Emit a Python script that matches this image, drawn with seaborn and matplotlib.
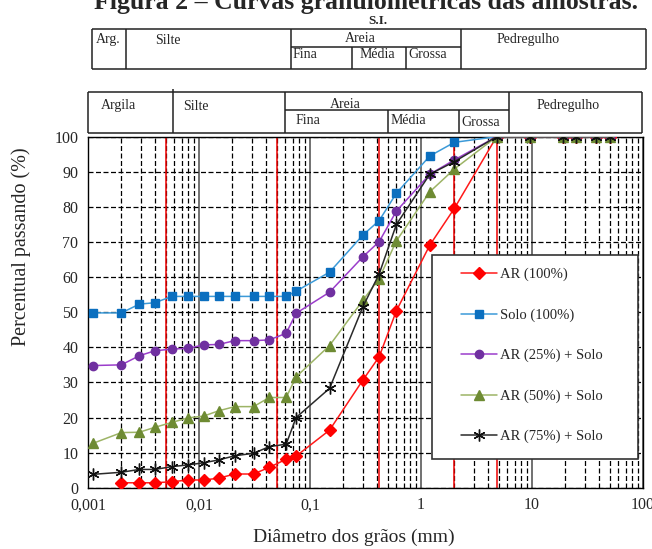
import numpy as np
import pandas as pd
import matplotlib
matplotlib.use("Agg")
import matplotlib.pyplot as plt
import seaborn as sns
from matplotlib.ticker import FixedLocator, LogLocator, NullFormatter, FixedFormatter
from matplotlib.patches import Rectangle

# ---------------- data ----------------
diametros = [0.0011, 0.002, 0.0029, 0.004, 0.0057, 0.008, 0.011, 0.015, 0.021,
             0.031, 0.043, 0.061, 0.075, 0.15, 0.3, 0.42, 0.6, 1.2, 2.0, 4.8,
             9.5, 19, 25, 38, 50]
ar_100 = [np.nan, 1.4, 1.4, 1.4, 1.7, 2.2, 2.2, 2.7, 3.9, 3.9, 5.8, 8.1, 9.0,
          16.4, 30.7, 37.3, 50.4, 69.1, 79.6, 100, 100, 100, 100, 100, 100]
solo_100 = [49.8, 49.8, 52.3, 52.7, 54.5, 54.5, 54.5, 54.5, 54.5, 54.5, 54.5,
            54.5, 56.0, 61.4, 72.0, 76.1, 83.9, 94.5, 98.4, 100, 100, 100, 100, 100, 100]
ar_25 = [34.8, 35.0, 37.6, 39.0, 39.5, 39.7, 40.7, 40.8, 41.9, 41.9, 42.1, 44.0,
         49.7, 55.7, 65.8, 70.1, 78.8, 89.3, 93.4, 100, 100, 100, 100, 100, 100]
ar_50 = [12.6, 15.7, 15.8, 17.2, 18.6, 19.9, 20.4, 21.9, 23.1, 23.1, 25.7, 25.7,
         31.6, 40.5, 53.4, 59.6, 70.3, 84.3, 90.8, 100, 100, 100, 100, 100, 100]
ar_75 = [3.8, 4.4, 5.2, 5.2, 6.0, 6.5, 7.1, 7.9, 9.1, 9.8, 11.7, 12.4, 20.0,
         28.3, 51.6, 60.9, 75.0, 89.3, 92.9, 100, 100, 100, 100, 100, 100]
series_names = ["AR (100%)", "Solo (100%)", "AR (25%) + Solo",
                "AR (50%) + Solo", "AR (75%) + Solo"]
limites = [0.005, 0.05, 0.42, 2.0, 4.8]
x_ticks = [0.001, 0.01, 0.1, 1, 10, 100]
x_tick_labels = ["0,001", "0,01", "0,1", "1", "10", "100"]
y_ticks = [0, 10, 20, 30, 40, 50, 60, 70, 80, 90, 100]

# ---------------- style ----------------
sns.set_style("white")
plt.rcParams["font.family"] = ["Liberation Serif", "DejaVu Serif"]

styles = [
    dict(color="#FF1A1A", marker="D", mfc="#FF0000", mec="#FF0000", ms=6),
    dict(color="#3C9AD8", marker="s", mfc="#0B6FBF", mec="#0B6FBF", ms=6),
    dict(color="#9B3DCB", marker="o", mfc="#7030A0", mec="#7030A0", ms=6),
    dict(color="#9DB466", marker="^", mfc="#6E8B33", mec="#6E8B33", ms=7.5),
    dict(color="#2A2A2A", marker=(6, 2, 0), mfc="#111111", mec="#111111", ms=8.5),
]
valores = [ar_100, solo_100, ar_25, ar_50, ar_75]

fig = plt.figure(figsize=(6.52, 5.49), dpi=100)
W, H = 652, 549
ax_l, ax_r, ax_t, ax_b = 88, 643, 136.7, 487.7
ax = fig.add_axes([ax_l / W, 1 - ax_b / H, (ax_r - ax_l) / W, (ax_b - ax_t) / H])

for name, vals, st in zip(series_names, valores, styles):
    df = pd.DataFrame({"d": diametros, "p": vals}).dropna()
    sns.lineplot(data=df, x="d", y="p", ax=ax, color=st["color"], lw=1.1,
                 marker=st["marker"], markerfacecolor=st["mfc"],
                 markeredgecolor=st["mec"], markersize=st["ms"],
                 markeredgewidth=1.0, label=name, zorder=4, errorbar=None)

ax.set_xscale("log")
ax.set_xlim(0.001, 100)
ax.set_ylim(0, 100)

ax.xaxis.set_major_locator(FixedLocator(x_ticks))
ax.xaxis.set_major_formatter(FixedFormatter(x_tick_labels))
ax.xaxis.set_minor_locator(LogLocator(base=10, subs=np.arange(2, 10), numticks=20))
ax.xaxis.set_minor_formatter(NullFormatter())
ax.yaxis.set_major_locator(FixedLocator(y_ticks))

ax.grid(which="major", axis="y", ls=(0, (4, 2)), color="black", lw=0.9)
ax.grid(which="minor", axis="x", ls=(0, (4, 2)), color="black", lw=0.9)
ax.grid(which="major", axis="x", ls="-", color="#4a4a4a", lw=1.1)
ax.set_axisbelow(True)
for lim in limites:
    ax.axvline(lim, color="#EE0000", lw=1.1, zorder=2)

for sp in ax.spines.values():
    sp.set_color("black")
    sp.set_linewidth(1.0)
ax.tick_params(which="major", direction="out", length=4, width=0.9,
               labelsize=11.5, color="black", pad=3)
ax.tick_params(which="minor", direction="out", length=3, width=0.9, color="black")

ax.set_xlabel("Diâmetro dos grãos (mm)", fontsize=14)
ax.set_ylabel("Percentual passando (%)", fontsize=14.5)
ax.xaxis.set_label_coords((354 - ax_l) / (ax_r - ax_l), (ax_b - 529) / (ax_b - ax_t))
ax.yaxis.set_label_coords((31 - ax_l) / (ax_r - ax_l), (ax_b - 247) / (ax_b - ax_t))

handles, labels = ax.get_legend_handles_labels()
ax.get_legend().remove()

# ---------------- overlay (pixel coordinates) ----------------
ov = fig.add_axes([0, 0, 1, 1])
ov.set_xlim(0, W)
ov.set_ylim(H, 0)
ov.axis("off")
ov.patch.set_alpha(0)

def seg(x0, y0, x1, y1, lw=1.1):
    ov.plot([x0, x1], [y0, y1], color="#222222", lw=lw, solid_capstyle="butt")

# title (cut off at top, as in the reference)
ov.text(366, 8.5, "Figura 2 \u2013 Curvas granulométricas das amostras.",
        ha="center", va="baseline", fontsize=18.5, fontweight="bold")
ov.text(378, 21, "S.I.", ha="center", va="center", fontsize=9.5, fontweight="bold")

tfs = 10
# upper table (S.I.)
top, mid, bot = 29, 47, 69
L, R = 92, 646
seg(L, top, R, top); seg(L, bot, R, bot)
seg(L, top, L, bot); seg(R, top, R, bot)
for xv in (126, 291, 461):
    seg(xv, top, xv, bot)
seg(291, mid, 461, mid)
for xv in (352, 406):
    seg(xv, mid, xv, bot)
ov.text(96, 40, "Arg.", ha="left", va="center", fontsize=tfs)
ov.text(155, 40, "Silte", ha="left", va="center", fontsize=tfs)
ov.text(360, 39, "Areia", ha="center", va="center", fontsize=tfs)
ov.text(293, 55, "Fina", ha="left", va="center", fontsize=tfs)
ov.text(360, 55, "Média", ha="left", va="center", fontsize=tfs)
ov.text(408, 55, "Grossa", ha="left", va="center", fontsize=tfs)
ov.text(528, 39, "Pedregulho", ha="center", va="center", fontsize=tfs)

# lower table (ABNT)
top, mid, bot = 92, 110, 133
L, R = 88, 642
seg(L, top, R, top); seg(L, bot, R, bot)
seg(L, top, L, bot); seg(R, top, R, bot)
seg(173, 89, 173, bot)
for xv in (285, 509):
    seg(xv, top, xv, bot)
seg(285, mid, 509, mid)
for xv in (388, 459):
    seg(xv, mid, xv, bot)
ov.text(101, 106, "Argila", ha="left", va="center", fontsize=tfs)
ov.text(183, 106, "Silte", ha="left", va="center", fontsize=tfs)
ov.text(345, 104, "Areia", ha="center", va="center", fontsize=tfs)
ov.text(296, 121, "Fina", ha="left", va="center", fontsize=tfs)
ov.text(391, 120, "Média", ha="left", va="center", fontsize=tfs)
ov.text(461, 122, "Grossa", ha="left", va="center", fontsize=tfs)
ov.text(568, 106, "Pedregulho", ha="center", va="center", fontsize=tfs)

# legend
ov.add_patch(Rectangle((432, 255), 206, 204, facecolor="white",
                       edgecolor="#333333", lw=1.2, zorder=3))
leg = ov.legend(handles, labels, loc="upper left", bbox_to_anchor=(461, 268),
                bbox_transform=ov.transData, frameon=False, borderpad=0,
                borderaxespad=0, handlelength=2.45, handletextpad=0.2,
                labelspacing=1.85, fontsize=10.5)
leg.set_zorder(5)

fig.savefig("out.png", dpi=100)
